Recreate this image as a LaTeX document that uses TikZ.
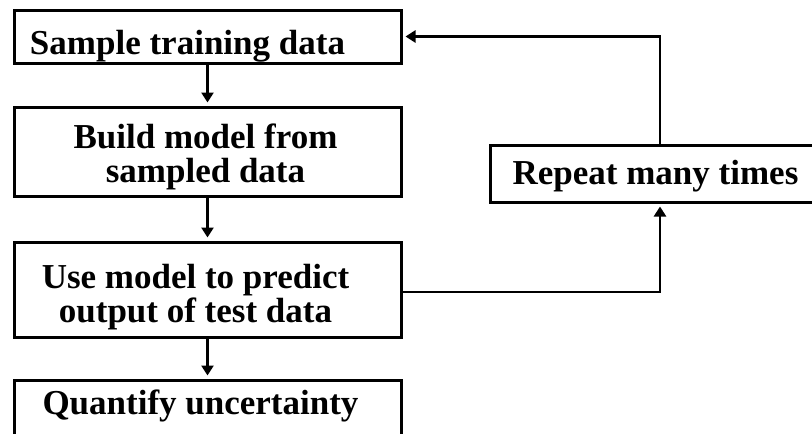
\documentclass[tikz,border=0pt]{standalone}
\usepackage{fontspec}
\setmainfont{Liberation Serif}
\usetikzlibrary{arrows.meta}
\begin{document}
\begin{tikzpicture}[x=1pt,y=-1pt,
  box/.style={draw, line width=3pt, rectangle, inner sep=0pt},
  txt/.style={align=center, inner sep=0pt, font=\fontsize{35}{34}\selectfont\bfseries},
  conn/.style={line width=2.5pt, -{Triangle[length=10pt,width=12pt]}, shorten >=3pt}]
\useasboundingbox (0,0) rectangle (812,434);
\node[box, minimum width=387pt, minimum height=53pt] (b1) at (207.5,36.5) {};
\node[box, minimum width=387pt, minimum height=89pt] (b2) at (207.5,151.5) {};
\node[box, minimum width=387pt, minimum height=95pt] (b3) at (207.5,289.5) {};
\node[box, minimum width=387pt, minimum height=56pt] (b4) at (207.5,408) {};
\node[box, minimum width=323pt, minimum height=57pt] (rep) at (651.5,173.5) {};
\node[txt] (t1) at ([xshift=-20pt,yshift=-10pt]b1.center) {Sample training data};
\node[txt] (t2) at ([xshift=-2pt,yshift=-5pt]b2.center) {Build model from\\sampled data};
\node[txt] (t3) at ([xshift=-12pt,yshift=-8pt]b3.center) {Use model to predict\\output of test data};
\node[txt] (t4) at ([xshift=-7pt,yshift=2pt]b4.center) {Quantify uncertainty};
\node[txt] (t5) at ([xshift=4pt,yshift=-3pt]rep.center) {Repeat many times};
\draw[conn] (b1) -- (b2);
\draw[conn] (b2) -- (b3);
\draw[conn] (b3) -- (b4);
\draw[conn] ([yshift=-2.5pt]b3.east) -| ([xshift=8.5pt]rep.south);
\draw[conn] ([xshift=8.5pt]rep.north) |- (b1.east);
\end{tikzpicture}
\end{document}
